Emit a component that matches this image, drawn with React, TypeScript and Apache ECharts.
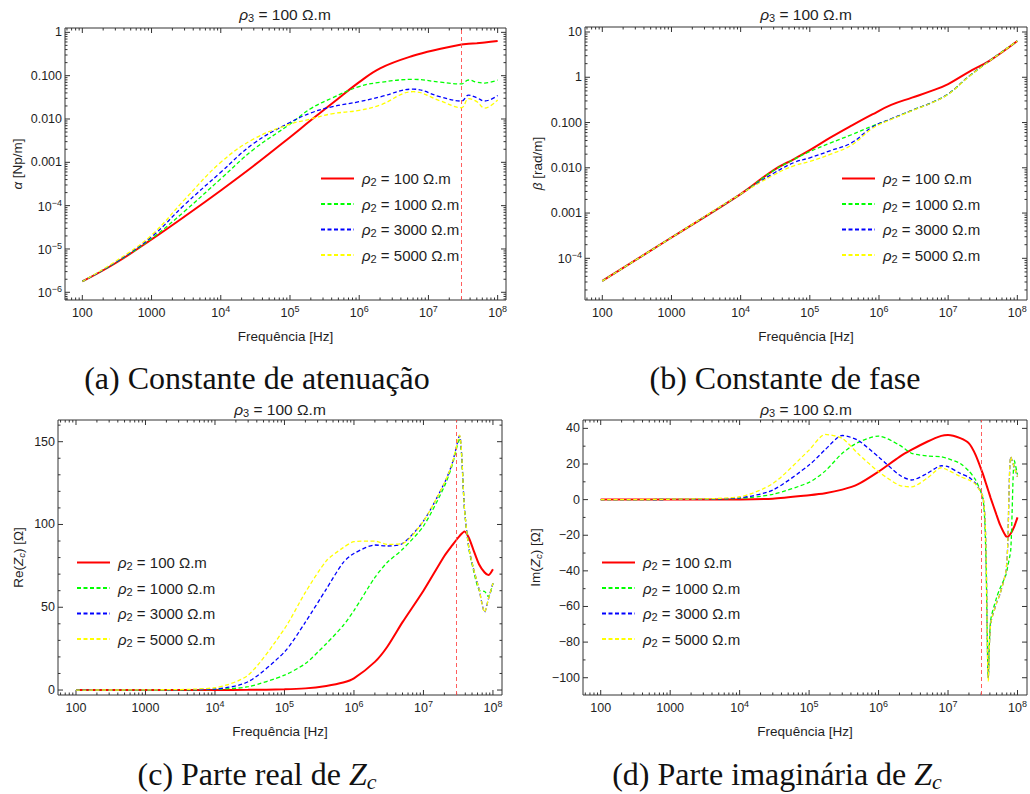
import React, { useEffect, useRef } from 'react';
import * as echarts from 'echarts';

// ---------------- data ----------------
const SERIES_NAMES = ['ρ2 = 100 Ω.m', 'ρ2 = 1000 Ω.m', 'ρ2 = 3000 Ω.m', 'ρ2 = 5000 Ω.m'];

// (a) attenuation constant alpha [Np/m]
const A_FREQ = [100, 300, 1e3, 3e3, 1e4, 3e4, 1e5, 2e5, 4e5, 1e6, 2e6, 6e6, 1.5e7, 3e7, 3.8e7, 5e7, 6.5e7, 1e8];
const A_RHO100 = [1.78e-6, 4.68e-6, 1.66e-5, 5.62e-5, 2.24e-4, 8.32e-4, 3.8e-3, 9.33e-3, 2.24e-2, 7.08e-2, 0.148, 0.288, 0.417, 0.525, 0.543, 0.562, 0.582, 0.631];
const A_RHO1000 = [1.78e-6, 4.79e-6, 1.74e-5, 7.41e-5, 4.17e-4, 2.0e-3, 7.59e-3, 1.74e-2, 3.02e-2, 5.62e-2, 7.0e-2, 8.22e-2, 7.08e-2, 6.46e-2, 7.94e-2, 7.08e-2, 6.76e-2, 7.94e-2];
const A_RHO3000 = [1.78e-6, 4.9e-6, 1.91e-5, 1.05e-4, 5.89e-4, 2.75e-3, 8.32e-3, 1.38e-2, 1.91e-2, 2.51e-2, 3.24e-2, 4.9e-2, 3.24e-2, 2.6e-2, 3.55e-2, 3.09e-2, 2.6e-2, 3.47e-2];
const A_RHO5000 = [1.78e-6, 5.13e-6, 2.09e-5, 1.38e-4, 1.0e-3, 3.47e-3, 7.59e-3, 1.0e-2, 1.32e-2, 1.58e-2, 2.09e-2, 4.27e-2, 2.6e-2, 1.82e-2, 2.95e-2, 2.51e-2, 1.78e-2, 2.75e-2];

// (b) phase constant beta [rad/m]
const B_FREQ = [100, 1e3, 1e4, 3e4, 6e4, 1e5, 2e5, 4e5, 8e5, 1.5e6, 3e6, 6e6, 1e7, 2e7, 4e7, 1e8];
const B_RHO100 = [3.16e-5, 2.88e-4, 2.63e-3, 8.91e-3, 1.58e-2, 2.45e-2, 4.68e-2, 8.51e-2, 0.151, 0.245, 0.355, 0.513, 0.708, 1.32, 2.34, 6.31];
const B_RHO1000 = [3.16e-5, 2.88e-4, 2.63e-3, 8.71e-3, 1.55e-2, 2.29e-2, 3.55e-2, 5.37e-2, 8.32e-2, 0.12, 0.186, 0.282, 0.427, 1.05, 2.34, 6.31];
const B_RHO3000 = [3.16e-5, 2.88e-4, 2.63e-3, 7.59e-3, 1.32e-2, 1.66e-2, 2.4e-2, 3.55e-2, 7.94e-2, 0.12, 0.186, 0.282, 0.427, 1.05, 2.34, 6.31];
const B_RHO5000 = [3.16e-5, 2.88e-4, 2.63e-3, 6.92e-3, 1.12e-2, 1.38e-2, 2.0e-2, 3.16e-2, 7.41e-2, 0.117, 0.182, 0.279, 0.42, 1.04, 2.32, 6.31];

// (c) Re(Zc) [Ohm]
const C_FREQ = [100, 1e3, 1e4, 3e4, 1e5, 2e5, 4e5, 7e5, 1e6, 2e6, 3e6, 5e6, 1e7, 2e7, 2.6e7, 3.3e7, 3.9e7, 4.5e7, 5.2e7, 6.3e7, 7.6e7, 8.6e7, 1e8];
const C_RHO100 = [0, 0, 0, 0.1, 0.4, 1.0, 2.5, 4.5, 7, 17, 26, 41, 60, 81, 87.5, 93, 95.7, 92, 85, 76, 71, 69.5, 73];
const C_RHO1000 = [0, 0, 0.4, 2, 9, 16, 28, 39, 48, 68, 77, 85, 99, 123, 136, 152, 109, 85.5, 73, 60.4, 59.5, 56.4, 64.5];
const C_RHO3000 = [0, 0.1, 0.6, 5, 23, 41, 61, 77, 82.5, 87.6, 87, 88.5, 102, 125, 137, 153.6, 109, 86, 74, 61, 47, 55, 64.5];
const C_RHO5000 = [0, 0.1, 1.4, 9, 37, 59, 78, 86, 89.6, 90, 88, 88.5, 102, 125, 137, 154, 109, 86, 74, 61, 47, 55, 64.5];

// (d) Im(Zc) [Ohm]
const D_FREQ = [100, 1e3, 1e4, 3e4, 1e5, 1.7e5, 3e5, 5e5, 1e6, 2e6, 3e6, 5e6, 8e6, 1e7, 1.5e7, 2e7, 2.5e7, 3.2e7, 3.5e7, 3.8e7, 4.1e7, 5e7, 5.6e7, 6.8e7, 7.2e7, 8e7, 9e7, 1e8];
const D_RHO100 = [0, 0, 0.1, 0.5, 2.5, 3.6, 5.6, 8.5, 15.7, 24, 28, 32.5, 35.8, 36.3, 34.5, 31.6, 25, 14, 9.3, 5, 1, -8.7, -14, -20.5, -20.8, -19, -15, -10];
const D_RHO1000 = [0, 0.1, 0.7, 3, 9.7, 16, 26, 32, 35.7, 30.6, 26, 24.5, 24, 23, 20.3, 16, 11, 0, -31, -100, -68, -55, -49.8, -42.4, -38, -28, 22, 14];
const D_RHO3000 = [0, 0.1, 1, 5.4, 19.4, 28, 36, 33.4, 24, 13.8, 11, 14.7, 19, 18.5, 14.7, 12.5, 9, 1, -25, -100, -70, -58, -53, -40.5, -27.4, 24, 18, 12.8];
const D_RHO5000 = [0, 0.2, 1.6, 9, 27.8, 36.6, 34.4, 26, 15.7, 8, 7.2, 12, 17.9, 16.5, 13, 11, 8.6, 1, -25, -102, -70, -58, -53, -40.5, -27.4, 24, 18, 12.8];

// tick labels
const X_TICKS = [100, 1e3, 1e4, 1e5, 1e6, 1e7, 1e8];
const A_Y_TICKS = [1e-6, 1e-5, 1e-4, 1e-3, 1e-2, 1e-1, 1];
const B_Y_TICKS = [1e-4, 1e-3, 1e-2, 1e-1, 1, 10];
const C_Y_TICKS = [0, 50, 100, 150];
const D_Y_TICKS = [-100, -80, -60, -40, -20, 0, 20, 40];
const MARKER_FREQ = 3e7;

// ---------------- styling ----------------
const SANS = '"Liberation Sans", Arial, Helvetica, sans-serif';
const SERIF = '"Liberation Serif", "Times New Roman", serif';
const TXT = '#1e1e1e';
const FRAME = '#333333';
const COLORS = ['#ff0000', '#00ff00', '#0000ff', '#ffff00'];
const MAJOR_LEN = 5;
const MINOR_LEN = 2.5;

function logMinor(min: number, max: number) {
  const out: number[] = [];
  for (let k = -9; k <= 9; k++) {
    for (let m = 2; m <= 9; m++) {
      const v = m * Math.pow(10, k);
      if (v > min && v < max) out.push(v);
    }
  }
  return out;
}
function linMinor(min: number, max: number, step: number, major: number) {
  const out: number[] = [];
  const start = Math.ceil(min / step) * step;
  for (let v = start; v < max; v += step) {
    if (Math.abs(v % major) > 1e-9) out.push(v);
  }
  return out;
}

const SUP_RICH = {
  b: { fontSize: 12.5, lineHeight: 15, verticalAlign: 'bottom', fontFamily: SANS, color: TXT },
  p: { fontSize: 9, lineHeight: 9, padding: [0, 0, 8, 0], verticalAlign: 'top', fontFamily: SANS, color: TXT },
  n: { fontSize: 12.5, lineHeight: 15, padding: [2, 0, 0, 0], fontFamily: SANS, color: TXT },
};

function xLabel(v: number) {
  const e = Math.round(Math.log10(v));
  if (e === 2) return '{n|100}';
  if (e === 3) return '{n|1000}';
  return `{b|10}{p|${e}}`;
}
function yLogLabel(v: number) {
  const e = Math.round(Math.log10(v));
  if (e === 1) return '10';
  if (e === 0) return '1';
  if (e >= -3) return v.toFixed(3);
  return `{b|10}{p|\u2212${-e}}`;
}
function yLinLabel(v: number) {
  return v < 0 ? '\u2212' + -v : String(v);
}

const NAME_RICH = {
  i: { fontStyle: 'italic', fontSize: 13.5, fontFamily: SANS, color: TXT, lineHeight: 16 },
  z: { fontStyle: 'italic', fontSize: 13.5, fontFamily: SANS, color: TXT, lineHeight: 16 },
  s: { fontStyle: 'italic', fontSize: 9.5, fontFamily: SANS, color: TXT, lineHeight: 10, verticalAlign: 'bottom' },
};

type Panel = {
  grid: { left: number; top: number; width: number; height: number };
  x: [number, number];
  yLog: boolean;
  y: [number, number];
  yTicks: number[];
  yMinor: number[];
  yName: string;
  yNameGap: number;
  freq: number[];
  vals: number[][];
  marker: boolean;
  legend: [number, number];
  title: [number, number];
  caption: { text: string; x: number; y: number };
  smooth: number;
};

const PANELS: Panel[] = [
  {
    grid: { left: 65, top: 28, width: 441, height: 272 },
    x: [56.2, 1.32e8], yLog: true, y: [6.64e-7, 1.26],
    yTicks: A_Y_TICKS, yMinor: logMinor(6.64e-7, 1.26),
    yName: '{i|α} [Np/m]', yNameGap: 40,
    freq: A_FREQ, vals: [A_RHO100, A_RHO1000, A_RHO3000, A_RHO5000],
    marker: true, legend: [320, 171], title: [285, 14],
    caption: { text: '(a) Constante de atenuação', x: 257, y: 378 }, smooth: 0.4,
  },
  {
    grid: { left: 585, top: 27, width: 442, height: 273 },
    x: [56.2, 1.38e8], yLog: true, y: [1.2e-5, 12.9],
    yTicks: B_Y_TICKS, yMinor: logMinor(1.2e-5, 12.9),
    yName: '{i|β} [rad/m]', yNameGap: 40,
    freq: B_FREQ, vals: [B_RHO100, B_RHO1000, B_RHO3000, B_RHO5000],
    marker: false, legend: [841, 171], title: [806, 14],
    caption: { text: '(b) Constante de fase', x: 785, y: 378 }, smooth: 0.4,
  },
  {
    grid: { left: 58, top: 420, width: 444, height: 275 },
    x: [55.1, 1.35e8], yLog: false, y: [-3, 163.1],
    yTicks: C_Y_TICKS, yMinor: linMinor(-3, 163.1, 10, 50),
    yName: 'Re({z|Z}{s|c}) [Ω]', yNameGap: 32,
    freq: C_FREQ, vals: [C_RHO100, C_RHO1000, C_RHO3000, C_RHO5000],
    marker: true, legend: [76, 555], title: [280, 409],
    caption: { text: '(c) Parte real de {z|Z}{c|c}', x: 257, y: 774 }, smooth: 0.25,
  },
  {
    grid: { left: 583, top: 420, width: 444, height: 275 },
    x: [55.6, 1.37e8], yLog: false, y: [-109.7, 44.7],
    yTicks: D_Y_TICKS, yMinor: linMinor(-109.7, 44.7, 10, 20),
    yName: 'Im({z|Z}{s|c}) [Ω]', yNameGap: 40,
    freq: D_FREQ, vals: [D_RHO100, D_RHO1000, D_RHO3000, D_RHO5000],
    marker: true, legend: [601, 555], title: [806, 409],
    caption: { text: '(d) Parte imaginária de {z|Z}{c|c}', x: 777, y: 774 }, smooth: 0.25,
  },
];

function pairs(freq: number[], vals: number[]) {
  return freq.map((f, i) => [f, vals[i]]);
}

// frame ticks (inward on all four sides), placed through the panel's own axes
function tickSeries(i: number, p: Panel, dir: 'x' | 'y', major: number[], minor: number[]) {
  const data: number[][] = [];
  major.forEach((v) => data.push(dir === 'x' ? [v, p.y[1], MAJOR_LEN] : [p.x[1], v, MAJOR_LEN]));
  minor.forEach((v) => data.push(dir === 'x' ? [v, p.y[1], MINOR_LEN] : [p.x[1], v, MINOR_LEN]));
  return {
    type: 'custom',
    xAxisIndex: i,
    yAxisIndex: i,
    silent: true,
    clip: false,
    z: 1,
    data,
    renderItem: (params: any, api: any) => {
      const cs = params.coordSys;
      const pt = api.coord([api.value(0), api.value(1)]);
      const len = api.value(2);
      const style = { stroke: FRAME, lineWidth: 1 };
      if (dir === 'x') {
        const x = pt[0];
        const yb = cs.y + cs.height;
        return {
          type: 'group',
          children: [
            { type: 'line', shape: { x1: x, y1: yb, x2: x, y2: yb - len }, style },
            { type: 'line', shape: { x1: x, y1: cs.y, x2: x, y2: cs.y + len }, style },
          ],
        };
      }
      const y = pt[1];
      const xr = cs.x + cs.width;
      return {
        type: 'group',
        children: [
          { type: 'line', shape: { x1: cs.x, y1: y, x2: cs.x + len, y2: y }, style },
          { type: 'line', shape: { x1: xr, y1: y, x2: xr - len, y2: y }, style },
        ],
      };
    },
  };
}

function buildOption() {
  const grids: any[] = [];
  const xAxes: any[] = [];
  const yAxes: any[] = [];
  const series: any[] = [];
  const legends: any[] = [];
  const graphics: any[] = [];

  PANELS.forEach((p, i) => {
    grids.push({ ...p.grid, containLabel: false, show: true, borderColor: FRAME, borderWidth: 1, backgroundColor: 'transparent' });
    const yType: any = p.yLog ? 'log' : 'value';

    xAxes.push({
      gridIndex: i,
      type: 'log',
      logBase: 10,
      min: p.x[0],
      max: p.x[1],
      position: 'bottom',
      splitLine: { show: false },
      axisLine: { show: false, onZero: false },
      axisTick: { show: false },
      axisPointer: { show: false },
      axisLabel: {
        show: true,
        customValues: X_TICKS,
        formatter: xLabel,
        margin: 4,
        fontFamily: SANS,
        fontSize: 12.5,
        color: TXT,
        rich: SUP_RICH,
      },
      name: 'Frequência [Hz]',
      nameLocation: 'middle',
      nameGap: 29,
      nameTextStyle: { fontFamily: SANS, fontSize: 13.5, color: TXT },
    });

    const yAx: any = {
      gridIndex: i,
      type: yType,
      min: p.y[0],
      max: p.y[1],
      position: 'left',
      splitLine: { show: false },
      axisLine: { show: false, onZero: false },
      axisTick: { show: false },
      axisPointer: { show: false },
      axisLabel: {
        show: true,
        customValues: p.yTicks,
        formatter: p.yLog ? yLogLabel : yLinLabel,
        margin: 3,
        fontFamily: SANS,
        fontSize: 12.5,
        color: TXT,
        rich: SUP_RICH,
      },
      name: p.yName,
      nameLocation: 'middle',
      nameGap: p.yNameGap,
      nameTextStyle: { fontFamily: SANS, fontSize: 13.5, color: TXT, rich: NAME_RICH },
    };
    if (p.yLog) yAx.logBase = 10;
    yAxes.push(yAx);

    p.vals.forEach((vals, k) => {
      const s: any = {
        type: 'line',
        name: SERIES_NAMES[k],
        xAxisIndex: i,
        yAxisIndex: i,
        data: pairs(p.freq, vals),
        symbol: 'none',
        showSymbol: false,
        smooth: p.smooth,
        silent: true,
        itemStyle: { color: COLORS[k] },
        lineStyle: k === 0
          ? { color: COLORS[k], width: 2, type: 'solid' }
          : { color: COLORS[k], width: 1.3, type: [4, 2.5] },
        z: 2 + k,
      };
      if (k === 0 && p.marker) {
        s.markLine = {
          silent: true,
          symbol: ['none', 'none'],
          label: { show: false },
          lineStyle: { color: '#ff4d4d', type: [4, 3], width: 1, opacity: 0.9 },
          data: [{ xAxis: MARKER_FREQ }],
        };
      }
      series.push(s);
    });

    series.push(tickSeries(i, p, 'x', X_TICKS, logMinor(p.x[0], p.x[1])));
    series.push(tickSeries(i, p, 'y', p.yTicks, p.yMinor));

    legends.push({
      data: SERIES_NAMES,
      left: p.legend[0],
      top: p.legend[1],
      orient: 'vertical',
      itemWidth: 33,
      itemHeight: 14,
      itemGap: 9,
      padding: 0,
      selectedMode: false,
      itemStyle: { opacity: 0, borderWidth: 0 },
      formatter: (name: string) => `{r|ρ}{s|2}{t|${name.slice(2)}}`,
      textStyle: {
        fontFamily: SANS,
        fontSize: 15,
        color: TXT,
        rich: {
          r: { fontStyle: 'italic', fontSize: 15, lineHeight: 18, fontFamily: SANS, color: TXT, padding: [0, 0, 0, 3] },
          s: { fontSize: 11, lineHeight: 11, verticalAlign: 'bottom', fontFamily: SANS, color: TXT },
          t: { fontSize: 15, lineHeight: 18, fontFamily: SANS, color: TXT },
        },
      },
    });

    graphics.push({
      type: 'text',
      x: p.title[0],
      y: p.title[1],
      silent: true,
      style: {
        text: '{r|ρ}{s|3}{t| = 100 Ω.m}',
        align: 'center',
        verticalAlign: 'middle',
        fill: TXT,
        font: `15.5px ${SANS}`,
        rich: {
          r: { fontStyle: 'italic', fontSize: 15.5, lineHeight: 18, fontFamily: SANS, fill: TXT },
          s: { fontSize: 11, lineHeight: 11, verticalAlign: 'bottom', fontFamily: SANS, fill: TXT },
          t: { fontSize: 15.5, lineHeight: 18, fontFamily: SANS, fill: TXT },
        },
      },
    });

    graphics.push({
      type: 'text',
      x: p.caption.x,
      y: p.caption.y,
      silent: true,
      style: {
        text: p.caption.text,
        align: 'center',
        verticalAlign: 'middle',
        fill: '#111',
        font: `32px ${SERIF}`,
        rich: {
          z: { fontStyle: 'italic', fontSize: 32, lineHeight: 36, fontFamily: SERIF, fill: '#111' },
          c: { fontStyle: 'italic', fontSize: 22, lineHeight: 22, verticalAlign: 'bottom', fontFamily: SERIF, fill: '#111' },
        },
      },
    });
  });

  return {
    animation: false,
    backgroundColor: '#ffffff',
    grid: grids,
    xAxis: xAxes,
    yAxis: yAxes,
    series,
    legend: legends,
    graphic: graphics,
  };
}

export default function App() {
  const ref = useRef<HTMLDivElement>(null);
  useEffect(() => {
    document.body.style.margin = '0';
    const chart = echarts.init(ref.current!, null, { renderer: 'svg', width: 1030, height: 794 });
    chart.setOption(buildOption() as any);
    return () => chart.dispose();
  }, []);
  return <div ref={ref} style={{ width: 1030, height: 794, background: '#fff' }} />;
}
